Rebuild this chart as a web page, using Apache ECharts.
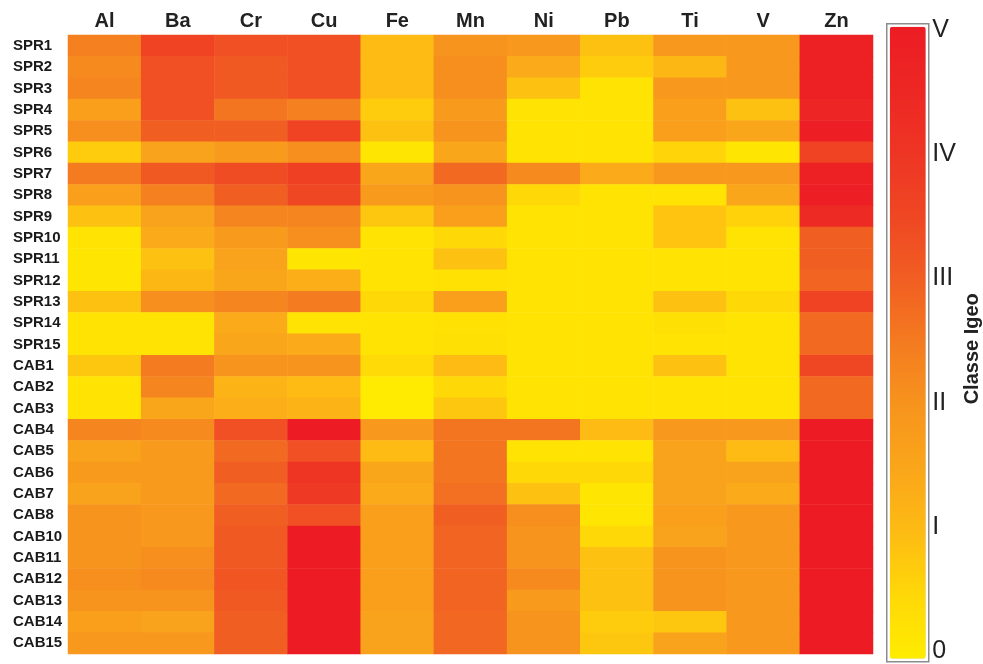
<!DOCTYPE html>
<html>
<head>
<meta charset="utf-8">
<script src="https://cdn.jsdelivr.net/npm/echarts@6/dist/echarts.min.js"></script>
<style>html,body{margin:0;padding:0;background:#fff}#c{width:983px;height:664px}</style>
</head>
<body>
<div id="c"></div>
<script>
const elements = ['Al','Ba','Cr','Cu','Fe','Mn','Ni','Pb','Ti','V','Zn'];
const samples = ['SPR1','SPR2','SPR3','SPR4','SPR5','SPR6','SPR7','SPR8','SPR9','SPR10','SPR11','SPR12','SPR13','SPR14','SPR15',
  'CAB1','CAB2','CAB3','CAB4','CAB5','CAB6','CAB7','CAB8','CAB10','CAB11','CAB12','CAB13','CAB14','CAB15'];
const classLabels = ['0','I','II','III','IV','V'];

// Igeo class values per element, in sample order
const Al = [2.4,2.2,2.3,1.7,2.1,0.7,2.5,1.7,0.9,0.2,0.15,0.15,0.9,0.2,0.2, 0.8,0.2,0.2,2.3,1.6,1.8,1.6,2.0,2.0,2.0,2.1,2.0,1.7,1.9];
const Ba = [3.6,3.3,3.3,3.3,3.0,1.6,3.1,2.4,1.6,1.4,0.9,1.1,2.1,0.2,0.2, 2.5,2.3,1.5,2.2,1.8,1.8,1.8,1.9,1.9,2.1,2.2,2.0,1.6,1.9];
const Cr = [3.3,3.1,3.1,2.6,3.0,1.8,3.4,3.0,2.3,1.8,1.6,1.5,2.3,1.4,1.5, 2.0,1.2,1.3,3.3,2.8,3.0,2.8,3.0,3.1,3.1,3.2,3.1,3.0,3.0];
const Cu = [3.3,3.3,3.3,2.4,3.6,2.1,3.7,3.5,2.3,2.1,0.15,1.3,2.5,0.2,1.4, 2.0,1.0,1.2,5.0,3.3,4.0,3.9,3.3,5.0,5.0,5.0,5.0,5.0,5.0];
const Fe = [1.0,1.0,1.0,0.7,0.9,0.15,1.5,1.8,0.8,0.2,0.2,0.2,0.5,0.2,0.2, 0.45,0.05,0.05,1.9,1.0,1.5,1.4,1.7,1.7,1.7,1.7,1.7,1.6,1.6];
const Mn = [2.0,2.1,2.1,1.8,2.0,1.5,2.8,2.0,1.7,0.5,0.9,0.25,1.7,0.25,0.3, 1.0,0.5,0.8,2.6,2.6,2.6,2.7,3.0,2.9,2.9,2.9,2.9,2.85,2.85];
const Ni = [1.9,1.4,0.9,0.2,0.2,0.2,2.2,0.5,0.2,0.2,0.2,0.2,0.2,0.2,0.2, 0.2,0.2,0.2,2.6,0.2,0.5,0.9,2.1,2.0,2.0,2.2,1.8,2.0,2.0];
const Pb = [0.9,0.7,0.2,0.2,0.2,0.2,1.4,0.2,0.2,0.2,0.2,0.2,0.2,0.2,0.2, 0.2,0.2,0.2,1.0,0.2,0.5,0.15,0.15,0.5,0.9,0.9,0.9,0.7,0.8];
const Ti = [1.9,1.1,1.9,1.7,1.7,0.55,1.9,0.2,0.85,0.85,0.2,0.2,0.9,0.3,0.2, 0.9,0.2,0.2,1.9,1.6,1.6,1.6,1.7,1.6,2.0,2.0,2.0,0.8,1.6];
const V  = [1.9,1.9,1.9,0.9,1.5,0.15,1.9,1.5,0.6,0.2,0.2,0.2,0.5,0.2,0.2, 0.2,0.2,0.2,1.9,1.0,1.6,1.4,1.9,1.9,1.9,1.9,1.9,1.9,1.9];
const Zn = [4.8,4.8,4.8,4.6,4.9,3.6,4.8,4.9,4.4,3.0,3.0,2.9,3.6,2.8,2.8, 3.5,2.8,2.8,5.0,5.0,5.0,5.0,5.0,5.0,5.0,5.0,5.0,5.0,5.0];

const columns = [Al,Ba,Cr,Cu,Fe,Mn,Ni,Pb,Ti,V,Zn];
const data = [];
columns.forEach((col, x) => col.forEach((v, y) => data.push([x, y, v])));

const font = 'Liberation Sans, Arial, sans-serif';
const chart = echarts.init(document.getElementById('c'), null, {renderer: 'canvas'});
chart.setOption({
  animation: false,
  backgroundColor: '#fff',
  grid: [
    {left: 68, right: 110, top: 35, bottom: 10},
    {left: 928, width: 1, top: 30, height: 625}
  ],
  xAxis: [
    {type: 'category', data: elements, position: 'top', gridIndex: 0,
     axisLine: {show: false}, axisTick: {show: false}, splitArea: {show: false},
     axisLabel: {fontSize: 20, fontWeight: 'bold', color: '#222', margin: 4, fontFamily: font}},
    {type: 'value', gridIndex: 1, show: false, min: 0, max: 1}
  ],
  yAxis: [
    {type: 'category', data: samples, inverse: true, gridIndex: 0,
     axisLine: {show: false}, axisTick: {show: false}, splitArea: {show: false},
     axisLabel: {fontSize: 15, fontWeight: 'bold', color: '#1a1a1a', align: 'left', margin: 55, fontFamily: font}},
    {type: 'value', gridIndex: 1, min: 0, max: 5, interval: 1, position: 'right',
     axisLine: {show: false}, axisTick: {show: false}, splitLine: {show: false},
     axisLabel: {fontSize: 25, color: '#222', margin: 4, fontFamily: font,
                 formatter: v => classLabels[Math.round(v)]},
     name: 'Classe Igeo', nameLocation: 'middle', nameRotate: 90, nameGap: 34,
     nameTextStyle: {fontSize: 20, fontWeight: 'bold', color: '#222', fontFamily: font, padding: [0, 16, 0, 0]}}
  ],
  visualMap: {
    type: 'continuous', min: 0, max: 5, orient: 'vertical', calculable: false,
    left: 886, top: 23, itemWidth: 36, itemHeight: 632, padding: 3,
    borderColor: '#8c8c8c', borderWidth: 1.5, text: null, showLabel: false,
    inRange: {color: ['#FFEC00','#FFD808','#FDBB13','#FAA61A','#F7941D','#F47B20','#F15E22','#EF4723','#EE3524','#ED2724','#ED1C24']}
  },
  series: [{
    type: 'heatmap', xAxisIndex: 0, yAxisIndex: 0, data: data,
    itemStyle: {borderWidth: 0},
    emphasis: {disabled: true}
  }]
});
</script>
</body>
</html>
